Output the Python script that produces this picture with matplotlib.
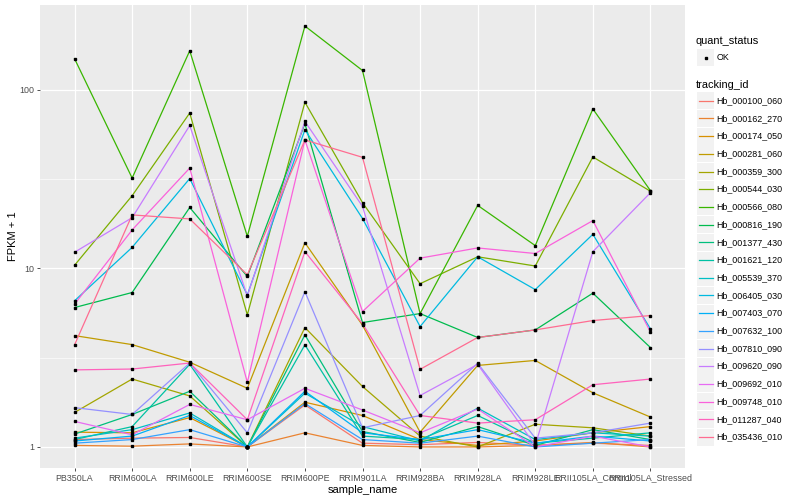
"""FPKM + 1 per sample for 20 tracking ids, ggplot-style line chart."""

import matplotlib
matplotlib.use("Agg")
import matplotlib.pyplot as plt
import numpy as np
from matplotlib.lines import Line2D
from matplotlib.patches import Rectangle

plt.rcParams["font.family"] = ["Liberation Sans", "DejaVu Sans"]

samples = [
    "PB350LA", "RRIM600LA", "RRIM600LE", "RRIM600SE", "RRIM600PE", "RRIM901LA",
    "RRIM928BA", "RRIM928LA", "RRIM928LE", "RRII105LA_Control", "RRII105LA_Stressed",
]

tracking_ids = [
    "Hb_000100_060", "Hb_000162_270", "Hb_000174_050", "Hb_000281_060",
    "Hb_000359_300", "Hb_000544_030", "Hb_000566_080", "Hb_000816_190",
    "Hb_001377_430", "Hb_001621_120", "Hb_005539_370", "Hb_006405_030",
    "Hb_007403_070", "Hb_007632_100", "Hb_007810_090", "Hb_009620_090",
    "Hb_009692_010", "Hb_009748_010", "Hb_011287_040", "Hb_035436_010",
]

# FPKM + 1, one list per tracking id, in sample order
hb_000100_060 = [1.10, 1.12, 1.13, 1.00, 1.72, 1.05, 1.03, 1.06, 1.02, 1.05, 1.02]
hb_000162_270 = [1.02, 1.01, 1.04, 1.00, 1.20, 1.02, 1.00, 1.00, 1.02, 1.06, 1.00]
hb_000174_050 = [1.21, 1.20, 1.46, 1.00, 1.78, 1.50, 1.10, 1.02, 1.08, 1.20, 1.30]
hb_000281_060 = [4.20, 3.74, 2.98, 2.13, 13.9, 4.80, 1.21, 2.86, 3.05, 2.01, 1.47]
hb_000359_300 = [1.56, 2.40, 1.93, 1.00, 4.66, 2.18, 1.15, 1.00, 1.34, 1.28, 1.15]
hb_000544_030 = [10.4, 25.5, 74.0, 5.49, 85.0, 23.3, 8.20, 11.6, 10.3, 42.0, 27.0]
hb_000566_080 = [149.0, 32.0, 165.0, 15.1, 227.0, 128.0, 5.58, 22.5, 13.4, 78.0, 27.2]
hb_000816_190 = [6.03, 7.32, 21.9, 9.00, 64.5, 4.97, 5.58, 4.10, 4.52, 7.26, 3.60]
hb_001377_430 = [1.18, 1.52, 2.05, 1.00, 4.24, 1.22, 1.06, 1.30, 1.02, 1.25, 1.10]
hb_001621_120 = [1.10, 1.30, 2.90, 1.00, 3.73, 1.15, 1.10, 1.50, 1.05, 1.12, 1.20]
hb_005539_370 = [1.12, 1.25, 1.55, 1.00, 2.00, 1.30, 1.08, 1.65, 1.10, 1.20, 1.15]
hb_006405_030 = [6.58, 13.1, 31.8, 7.10, 59.7, 19.0, 4.72, 11.6, 7.60, 15.5, 4.58]
hb_007403_070 = [1.08, 1.15, 1.50, 1.00, 2.05, 1.20, 1.10, 1.25, 1.05, 1.15, 1.08]
hb_007632_100 = [1.05, 1.10, 1.25, 1.00, 1.75, 1.10, 1.05, 1.15, 1.00, 1.05, 1.10]
hb_007810_090 = [1.66, 1.52, 2.95, 1.20, 7.40, 1.28, 1.50, 2.94, 1.12, 1.20, 1.36]
hb_009620_090 = [12.3, 19.2, 63.0, 7.00, 66.4, 22.2, 1.94, 2.90, 1.02, 12.4, 26.5]
hb_009692_010 = [1.39, 1.17, 1.73, 1.42, 2.13, 1.61, 1.20, 1.63, 1.00, 1.15, 1.00]
hb_009748_010 = [6.30, 16.4, 36.4, 2.30, 52.3, 5.73, 11.4, 13.0, 12.1, 18.5, 4.40]
hb_011287_040 = [2.70, 2.73, 2.95, 1.42, 12.4, 4.90, 1.50, 1.36, 1.42, 2.23, 2.40]
hb_035436_010 = [3.73, 19.9, 18.9, 9.20, 52.3, 41.8, 2.72, 4.10, 4.52, 5.10, 5.44]

series = [
    hb_000100_060, hb_000162_270, hb_000174_050, hb_000281_060, hb_000359_300,
    hb_000544_030, hb_000566_080, hb_000816_190, hb_001377_430, hb_001621_120,
    hb_005539_370, hb_006405_030, hb_007403_070, hb_007632_100, hb_007810_090,
    hb_009620_090, hb_009692_010, hb_009748_010, hb_011287_040, hb_035436_010,
]

# ggplot2 default hue palette for 20 levels
colors = [
    "#F8766D", "#EA8331", "#D89000", "#C09B00", "#A3A500", "#7CAE00", "#39B600",
    "#00BB4E", "#00BF7D", "#00C1A3", "#00BFC4", "#00BAE0", "#00B0F6", "#35A2FF",
    "#9590FF", "#C77CFF", "#E76BF3", "#FA62DB", "#FF62BC", "#FF6C91",
]

W, H = 800, 500
fig = plt.figure(figsize=(8, 5), dpi=100)
ax = fig.add_axes([40 / W, 1 - 468 / H, 645 / W, 463 / H])
ax.set_facecolor("#EBEBEB")

x = np.arange(len(samples))
for vals, col in zip(series, colors):
    ax.plot(x, vals, color=col, linewidth=0.9, zorder=3)
for vals in series:
    ax.plot(x, vals, linestyle="none", marker="s", markersize=2.1,
            color="black", zorder=4)

ax.set_yscale("log")
all_vals = np.concatenate([np.asarray(v) for v in series])
lo, hi = np.log10(all_vals.min()), np.log10(all_vals.max())
pad = 0.05 * (hi - lo)
ax.set_ylim(10 ** (lo - pad), 10 ** (hi + pad))
ax.set_xlim(-0.6, len(samples) - 0.4)

ax.set_yticks([1, 10, 100])
ax.set_yticklabels(["1", "10", "100"])
ax.set_yticks([10 ** 0.5, 10 ** 1.5], minor=True)
ax.yaxis.set_minor_formatter(plt.NullFormatter())
ax.set_xticks(x)
ax.set_xticklabels(samples)

ax.grid(True, which="major", color="white", linewidth=0.9, zorder=0)
ax.grid(True, which="minor", axis="y", color="white", linewidth=0.45, zorder=0)
ax.set_axisbelow(True)
for s in ax.spines.values():
    s.set_visible(False)
ax.tick_params(axis="both", which="major", length=2.5, width=0.6,
               color="#333333", labelsize=6.4, labelcolor="#4D4D4D", pad=1.5)
ax.tick_params(axis="y", which="minor", length=0)

ax.set_xlabel("sample_name", fontsize=8, color="black", labelpad=1.5)
ax.set_ylabel("FPKM + 1", fontsize=8, color="black", labelpad=1)


def fx(px):
    return px / W


def fy(py):
    return 1 - py / H


# legend: quant_status
fig.text(fx(696), fy(40.5), "quant_status", fontsize=7.9, va="center", ha="left")
fig.patches.append(Rectangle((fx(697), fy(66)), 17 / W, 17 / H,
                             transform=fig.transFigure, facecolor="#F2F2F2",
                             edgecolor="none"))
fig.lines.append(Line2D([fx(705.5)], [fy(57.5)], transform=fig.transFigure,
                        marker="s", markersize=2.1, color="black", linestyle="none"))
fig.text(fx(716.5), fy(57.5), "OK", fontsize=6.4, va="center", ha="left")

# legend: tracking_id
fig.text(fx(696), fy(84.5), "tracking_id", fontsize=7.9, va="center", ha="left")
step = 17.7
for i, (tid, col) in enumerate(zip(tracking_ids, colors)):
    cy = 100.7 + i * step
    fig.patches.append(Rectangle((fx(697), fy(cy + 8.5)), 17 / W, 17 / H,
                                 transform=fig.transFigure, facecolor="#F2F2F2",
                                 edgecolor="none"))
    fig.lines.append(Line2D([fx(698.5), fx(712.5)], [fy(cy), fy(cy)],
                            transform=fig.transFigure, color=col, linewidth=0.9))
    fig.text(fx(716.5), fy(cy), tid, fontsize=6.4, va="center", ha="left")

fig.savefig("out.png", dpi=100, facecolor="white")
